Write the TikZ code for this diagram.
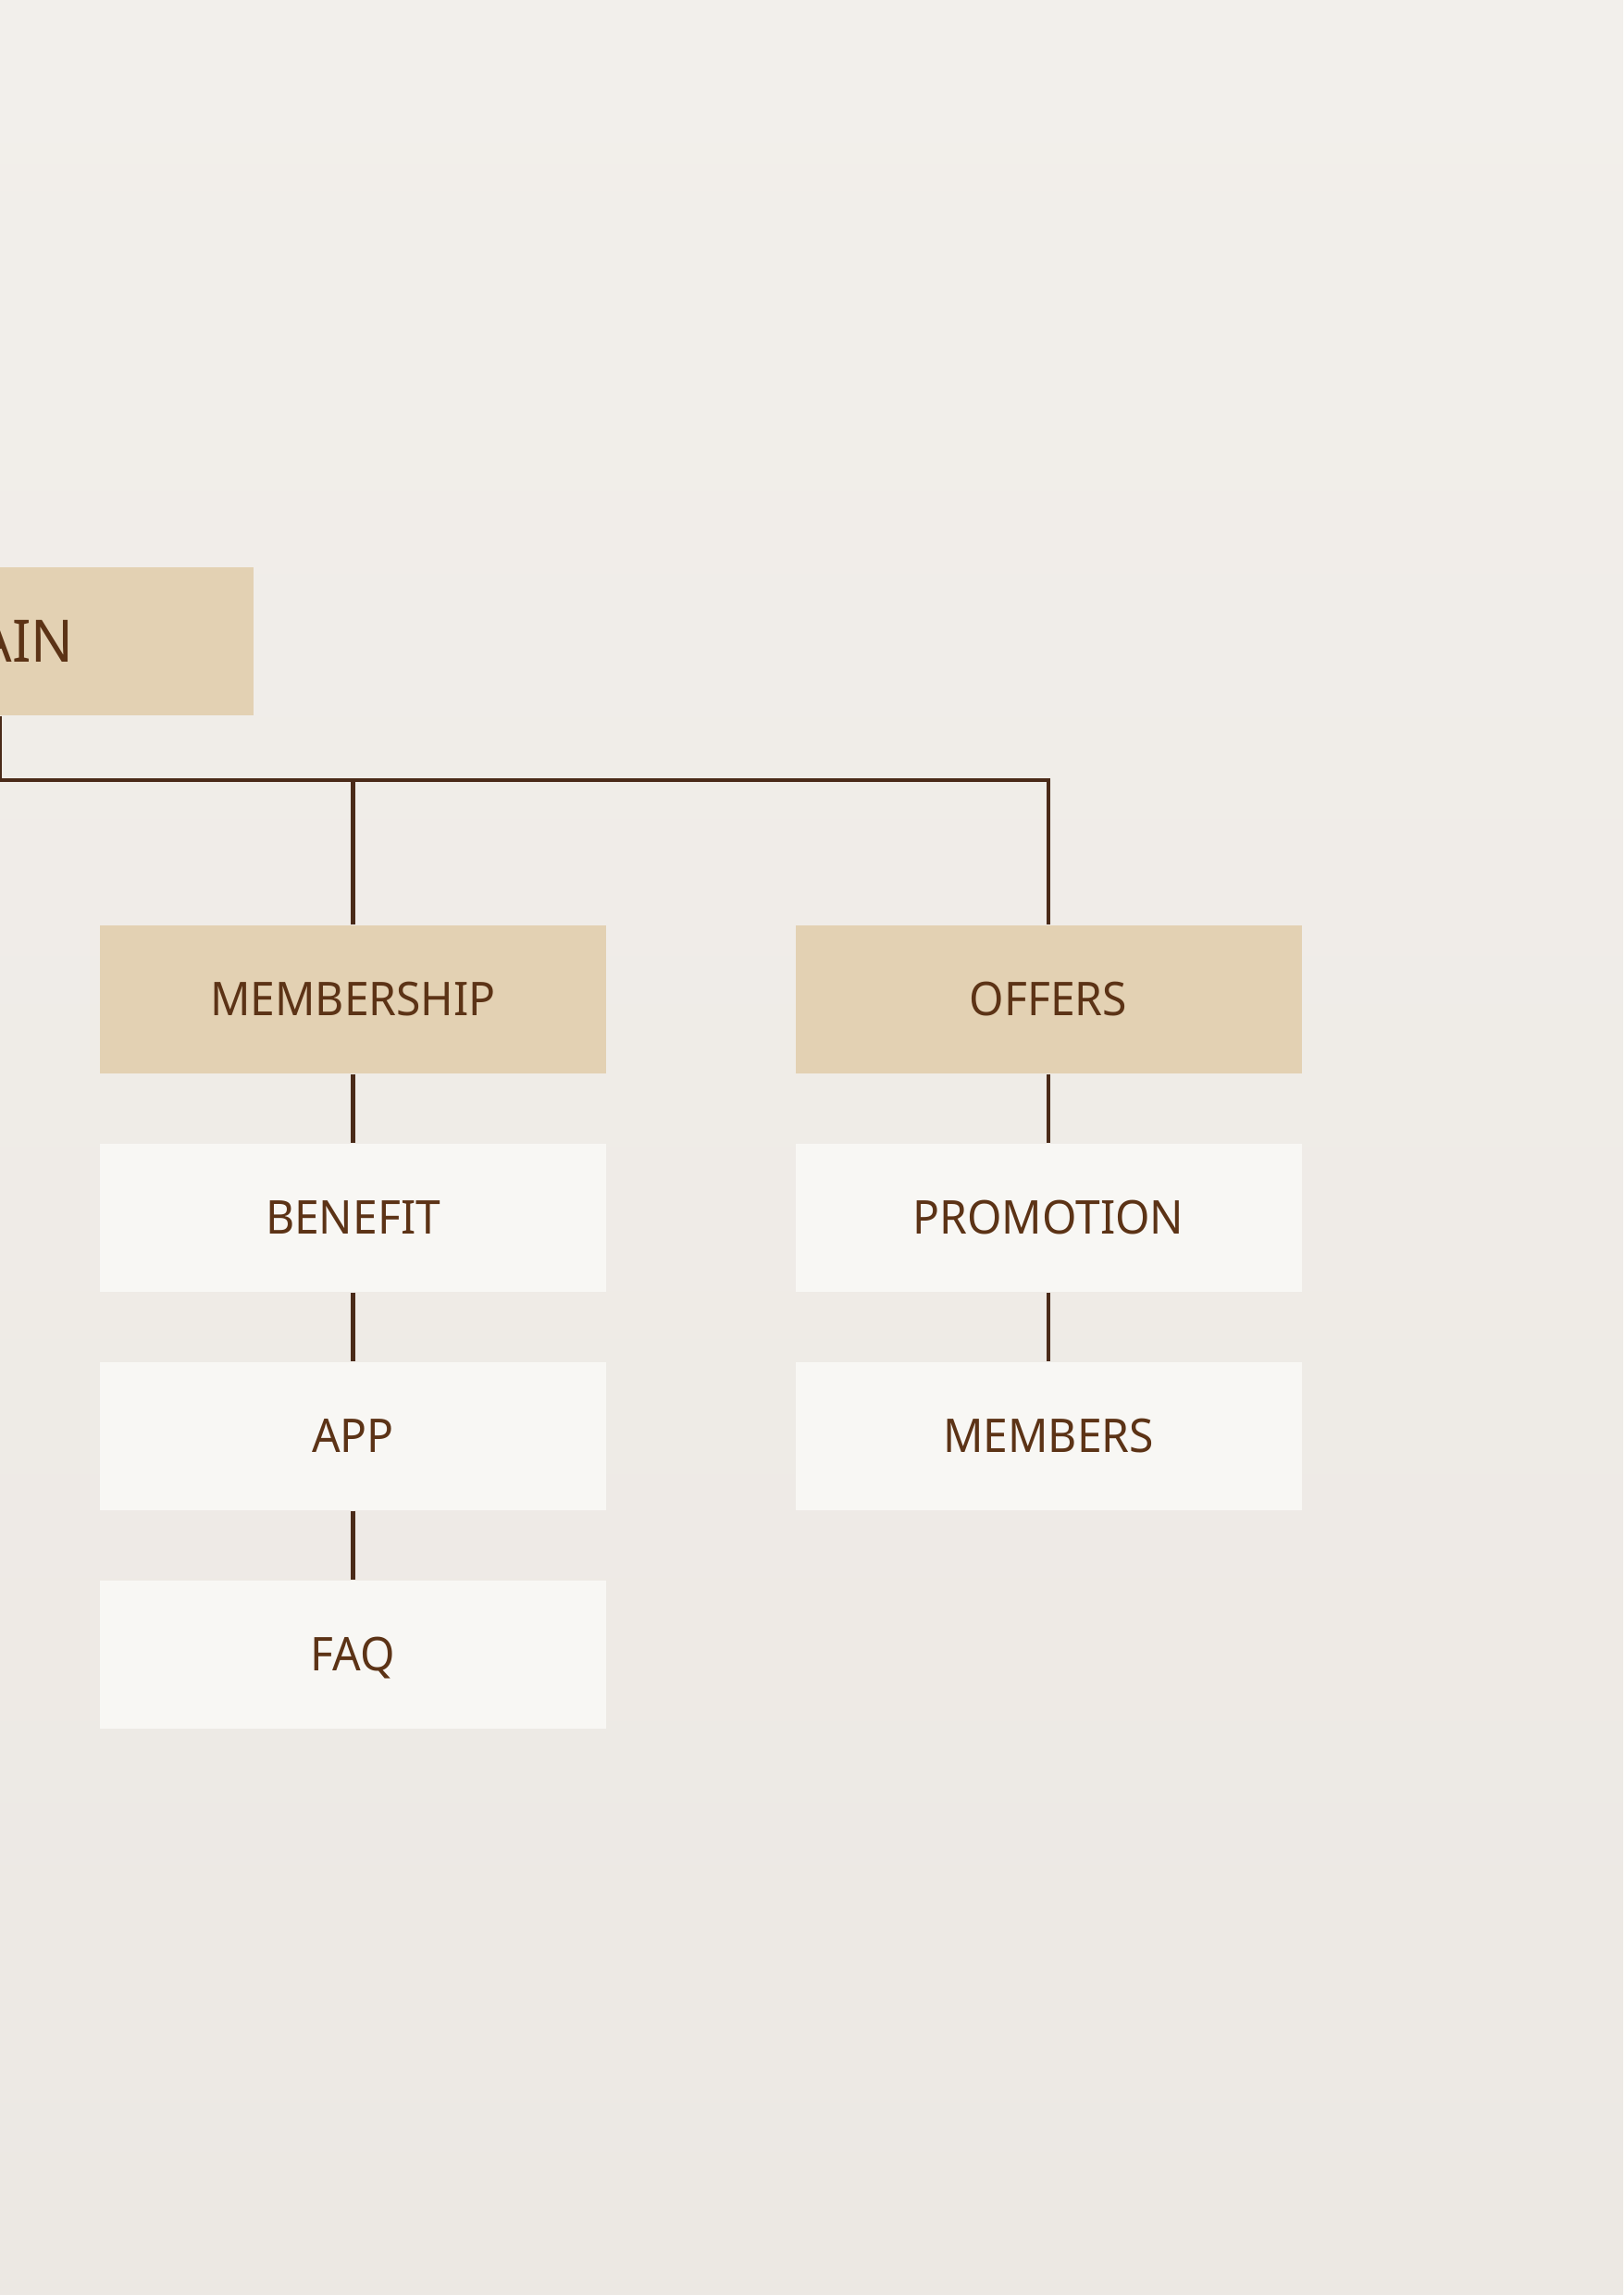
\documentclass[tikz,border=0pt]{standalone}
\usepackage{fontspec}
\setmainfont[FakeStretch=0.955]{Noto Sans}
\definecolor{bgtop}{HTML}{F2EFEB}
\definecolor{bgbot}{HTML}{ECE8E3}
\definecolor{tanc}{HTML}{E3D1B3}
\definecolor{palec}{HTML}{F8F7F4}
\definecolor{txt}{HTML}{5C3316}
\definecolor{linec}{HTML}{4A2A18}
\begin{document}
\begin{tikzpicture}[x=1cm,y=1cm,
  box/.style={minimum width=5.47cm, minimum height=1.6cm, inner sep=0pt,
    font=\fontsize{14.3}{16}\selectfont, text=txt, text height=10.2pt, text depth=0pt},
  tanbox/.style={box, fill=tanc},
  palebox/.style={box, fill=palec},
  conn/.style={draw=linec, line width=1.15pt}]
\useasboundingbox (0,0) rectangle (17.54,-24.80);
\clip (0,0) rectangle (17.54,-24.80);
\shade[top color=bgtop, bottom color=bgbot] (0,0) rectangle (17.54,-24.80);

\node[tanbox, minimum width=5.48cm, font=\fontsize{18}{20}\selectfont, text height=12.8pt] (main) at (0,-6.93) {MAIN};
\node[tanbox] (mem) at (3.815,-10.80) {MEMBERSHIP};
\node[tanbox] (off) at (11.33,-10.80) {OFFERS};
\node[palebox] (ben) at (3.815,-13.16) {BENEFIT};
\node[palebox] (app) at (3.815,-15.52) {APP};
\node[palebox] (faq) at (3.815,-17.88) {FAQ};
\node[palebox] (pro) at (11.33,-13.16) {PROMOTION};
\node[palebox] (mbs) at (11.33,-15.52) {MEMBERS};

\coordinate (bus) at (0,-8.43);
\draw[conn] (main.south) -- (bus) -| (off.north);
\draw[conn] (mem.north) -- (mem.north |- bus);
\draw[conn] (mem.south) -- (ben.north);
\draw[conn] (ben.south) -- (app.north);
\draw[conn] (app.south) -- (faq.north);
\draw[conn] (off.south) -- (pro.north);
\draw[conn] (pro.south) -- (mbs.north);
\end{tikzpicture}
\end{document}
